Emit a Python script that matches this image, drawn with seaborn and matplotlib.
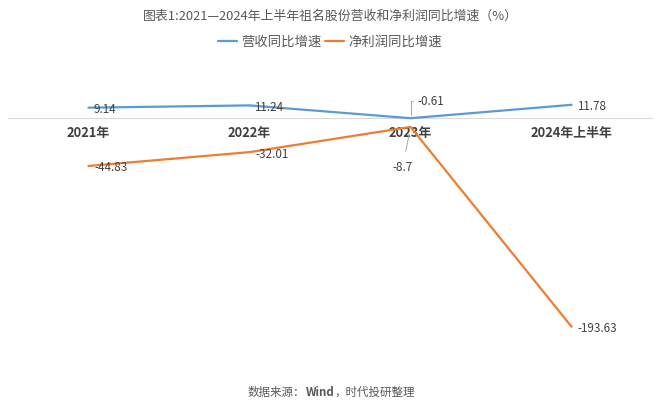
import matplotlib
matplotlib.use("Agg")
import matplotlib.pyplot as plt
import seaborn as sns
import pandas as pd

categories = ["2021年", "2022年", "2023年", "2024年上半年"]
revenue_growth = [9.14, 11.24, -0.61, 11.78]
profit_growth = [-44.83, -32.01, -8.7, -193.63]
series_names = ["营收同比增速", "净利润同比增速"]
colors = ["#5B9BD5", "#ED7D31"]

df = pd.DataFrame({
    "cat": categories * 2,
    "val": revenue_growth + profit_growth,
    "series": [series_names[0]] * 4 + [series_names[1]] * 4,
})

sns.set_theme(style="white")
plt.rcParams["font.family"] = ["Noto Sans CJK SC", "DejaVu Sans"]

fig = plt.figure(figsize=(6.6, 4.13), dpi=100)
ax = fig.add_axes([0.012, 0.14, 0.976, 0.68])

sns.lineplot(data=df, x="cat", y="val", hue="series", palette=colors,
             sort=False, linewidth=1.6, ax=ax)

ax.set_xlim(-0.5, 3.5)
ax.set_ylim(-220, 40)
ax.set_xlabel("")
ax.set_ylabel("")
ax.set_yticks([])
for s in ["left", "top", "right"]:
    ax.spines[s].set_visible(False)
ax.spines["bottom"].set_position(("data", 0))
ax.spines["bottom"].set_color("#D9D9D9")
ax.spines["bottom"].set_linewidth(0.8)
ax.tick_params(axis="x", length=0, pad=6, labelsize=9.3, labelcolor="#404040")
for t in ax.get_xticklabels():
    t.set_fontweight("bold")
for line in ax.lines:
    line.set_zorder(3)

lab_kw = dict(textcoords="offset pixels", fontsize=8.4, color="#404040", zorder=4)

for i, v in enumerate(revenue_growth):
    if i == 2:
        ax.annotate(f"{v:g}", xy=(i, v), xytext=(7, 17), ha="left", va="center",
                    arrowprops=dict(arrowstyle="-", color="#A6A6A6", lw=0.7,
                                    connectionstyle="angle,angleA=0,angleB=90",
                                    shrinkA=1, shrinkB=2), **lab_kw)
    else:
        ax.annotate(f"{v:g}", xy=(i, v), xytext=(5, -2), ha="left", va="center", **lab_kw)

for i, v in enumerate(profit_growth):
    if i == 2:
        ax.annotate(f"{v:g}", xy=(i, v), xytext=(-8, -41), ha="center", va="center",
                    arrowprops=dict(arrowstyle="-", color="#A6A6A6", lw=0.7,
                                    shrinkA=5, shrinkB=5), **lab_kw)
    else:
        ax.annotate(f"{v:g}", xy=(i, v), xytext=(6, -2), ha="left", va="center", **lab_kw)

handles, labels = ax.get_legend_handles_labels()
if ax.get_legend() is not None:
    ax.get_legend().remove()
fig.legend(handles, labels, loc="center", bbox_to_anchor=(0.5, 1 - 42 / 413),
           ncol=2, frameon=False, handlelength=1.4, handletextpad=0.3,
           columnspacing=0.3, fontsize=9.6, labelcolor="#595959")

fig.text(0.5, 1 - 16 / 413, "图表1:2021—2024年上半年祖名股份营收和净利润同比增速（%）",
         ha="center", va="center", fontsize=9.3, color="#595959")

src_y = 1 - 399 / 413
t1 = fig.text(248 / 660, src_y, "数据来源：", ha="left", va="bottom",
              fontsize=8.3, color="#595959")
t2 = ax.annotate("Wind", xy=(1, 0), xycoords=t1, ha="left", va="bottom",
                 fontsize=8.3, color="#595959", fontweight="bold")
t3 = ax.annotate("，时代投研整理", xy=(1, 0), xycoords=t2, ha="left", va="bottom",
                 fontsize=8.3, color="#595959")

fig.savefig("out.png", dpi=100)
